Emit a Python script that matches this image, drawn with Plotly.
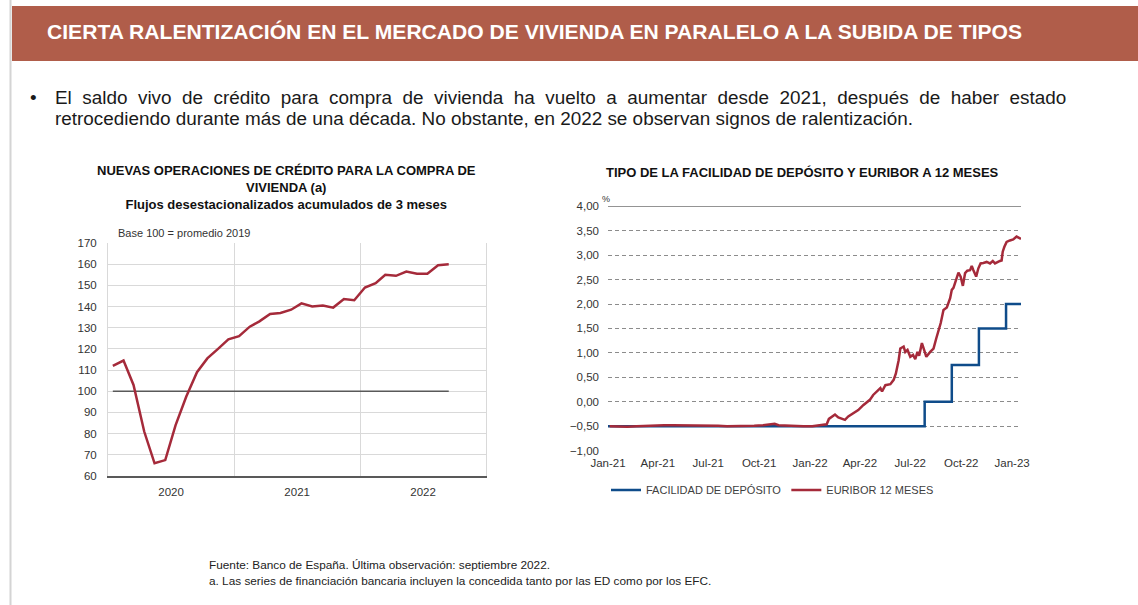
import pandas as pd
import plotly.graph_objects as go

# Left chart: new mortgage lending, 3-month cumulative SA flows (base 100 = 2019 average)
credit_dates = pd.date_range("2020-01-01", "2022-09-01", freq="MS") + pd.Timedelta(days=14)
credit_index = [112, 114.5, 103, 81, 66, 67.5, 84, 97.5, 109, 115.5, 120, 124.5,
                126, 130.5, 133, 136.5, 137, 138.5, 141.5, 140, 140.5, 139.5, 143.5, 143,
                149, 151, 155, 154.5, 156.5, 155.5, 155.5, 159.5, 160]
base_line = [100] * len(credit_index)

# Right chart: ECB deposit facility rate and 12-month Euribor (%)
dfr_dates = ["2021-01-01", "2022-07-27", "2022-09-14", "2022-11-02", "2022-12-21", "2023-01-17"]
dfr_rate = [-0.50, 0.00, 0.75, 1.50, 2.00, 2.00]

euribor_dates = [
    "2021-01-04", "2021-01-20", "2021-02-05", "2021-02-22", "2021-03-10", "2021-03-25",
    "2021-04-12", "2021-04-28", "2021-05-14", "2021-05-31", "2021-06-16", "2021-07-01",
    "2021-07-19", "2021-08-04", "2021-08-20", "2021-09-06", "2021-09-22", "2021-10-08",
    "2021-10-22", "2021-10-29", "2021-11-05", "2021-11-19", "2021-12-06", "2021-12-20",
    "2022-01-05", "2022-01-19", "2022-01-31", "2022-02-04", "2022-02-09", "2022-02-15",
    "2022-02-21", "2022-02-27", "2022-03-05", "2022-03-11", "2022-03-20", "2022-03-29",
    "2022-04-07", "2022-04-13", "2022-04-19", "2022-04-25", "2022-05-02", "2022-05-08",
    "2022-05-11", "2022-05-17", "2022-05-26", "2022-06-01", "2022-06-05", "2022-06-10",
    "2022-06-13", "2022-06-19", "2022-06-22", "2022-06-26", "2022-07-01", "2022-07-06",
    "2022-07-10", "2022-07-14", "2022-07-17", "2022-07-22", "2022-07-26", "2022-07-30",
    "2022-08-06", "2022-08-12", "2022-08-17", "2022-08-21", "2022-08-25", "2022-08-30",
    "2022-09-05", "2022-09-11", "2022-09-14", "2022-09-17", "2022-09-22", "2022-09-26",
    "2022-09-30", "2022-10-04", "2022-10-08", "2022-10-12", "2022-10-17", "2022-10-20",
    "2022-10-23", "2022-10-28", "2022-11-01", "2022-11-05", "2022-11-10", "2022-11-16",
    "2022-11-22", "2022-11-27", "2022-12-01", "2022-12-05", "2022-12-10", "2022-12-13",
    "2022-12-15", "2022-12-18", "2022-12-22", "2022-12-28", "2023-01-03", "2023-01-09",
    "2023-01-15", "2023-01-17",
]
euribor_rate = [
    -0.50, -0.51, -0.51, -0.50, -0.49, -0.49,
    -0.48, -0.48, -0.48, -0.48, -0.49, -0.48,
    -0.49, -0.50, -0.50, -0.49, -0.49, -0.48,
    -0.47, -0.45, -0.48, -0.49, -0.50, -0.50,
    -0.50, -0.48, -0.46, -0.35, -0.30, -0.26,
    -0.32, -0.34, -0.37, -0.30, -0.24, -0.17,
    -0.07, -0.02, 0.04, 0.14, 0.21, 0.28,
    0.21, 0.34, 0.36, 0.45, 0.58, 0.85,
    1.09, 1.13, 1.02, 1.06, 0.92, 0.96,
    0.87, 1.02, 0.94, 1.20, 1.06, 0.92,
    1.02, 1.09, 1.30, 1.45, 1.61, 1.88,
    1.93, 2.12, 2.29, 2.33, 2.53, 2.64,
    2.56, 2.37, 2.63, 2.68, 2.69, 2.78,
    2.69, 2.56, 2.73, 2.83, 2.84, 2.86,
    2.83, 2.88, 2.83, 2.86, 2.88, 2.89,
    3.07, 3.17, 3.27, 3.30, 3.32, 3.38,
    3.34, 3.33,
]

W, H = 1138, 605
FONT = "Liberation Sans, Arial, sans-serif"
RED = "#A52A3A"
BLUE = "#0F4C8A"


def px(x):
    return x / W


def py(y):
    return 1 - y / H


fig = go.Figure()

# left chart
fig.add_trace(go.Scatter(x=credit_dates, y=base_line, mode="lines", showlegend=False,
                         line=dict(color="#595959", width=1.5), hoverinfo="skip"))
fig.add_trace(go.Scatter(x=credit_dates, y=credit_index, mode="lines", showlegend=False,
                         line=dict(color=RED, width=2.5), name="Nuevas operaciones"))

# right chart
fig.add_trace(go.Scatter(x=dfr_dates, y=dfr_rate, mode="lines", line_shape="hv",
                         line=dict(color=BLUE, width=2.5), name="FACILIDAD DE DEPÓSITO",
                         xaxis="x2", yaxis="y2"))
fig.add_trace(go.Scatter(x=euribor_dates, y=euribor_rate, mode="lines",
                         line=dict(color=RED, width=2.5), name="EURIBOR 12 MESES",
                         xaxis="x2", yaxis="y2"))

tick_font = dict(family=FONT, size=11.5, color="#333333")

fig.update_layout(
    width=W, height=H,
    margin=dict(l=0, r=0, t=0, b=0, pad=0, autoexpand=False),
    paper_bgcolor="white", plot_bgcolor="white",
    font=dict(family=FONT, color="#222222"),
    separators=",.",
    xaxis=dict(domain=[px(108), px(486)], type="date",
               range=["2020-01-01", "2023-01-01"], dtick="M12", tick0="2020-01-01",
               ticklabelmode="period", tickformat="%Y", tickfont=tick_font,
               showgrid=True, gridcolor="#d9d9d9", gridwidth=1,
               showline=True, linecolor="#595959", linewidth=1.5,
               ticks="", ticklabelstandoff=4, automargin=False),
    yaxis=dict(domain=[py(476), py(243)], range=[60, 170], dtick=10,
               tickfont=tick_font, showgrid=True, gridcolor="#d9d9d9",
               showline=True, linecolor="#d9d9d9", mirror=True, zeroline=False,
               ticks="", ticklabelstandoff=8, automargin=False),
    xaxis2=dict(domain=[px(608), px(1021)], type="date",
                range=["2021-01-01", "2023-01-17"], dtick="M3", tick0="2021-01-01",
                tickformat="%b-%y", tickfont=tick_font, showgrid=False,
                showline=False, ticks="", ticklabelstandoff=4, anchor="y2",
                automargin=False),
    yaxis2=dict(domain=[py(450.7), py(206.2)], range=[-1, 4], dtick=0.5,
                tickformat=".2f", tickfont=tick_font, showgrid=True,
                gridcolor="#8c8c8c", griddash="4px,3px", gridwidth=1,
                zeroline=False, showline=False, ticks="", ticklabelstandoff=8,
                anchor="x2", automargin=False),
    legend=dict(orientation="h", x=px(606), y=py(490), xanchor="left", yanchor="middle",
                font=dict(family=FONT, size=11, color="#404040"),
                itemwidth=30, bgcolor="rgba(0,0,0,0)"),
)

shapes = [
    # header band and left page border
    dict(type="rect", xref="paper", yref="paper", x0=px(12), x1=1, y0=py(61), y1=py(6),
         fillcolor="#B05D4A", line_width=0, layer="below"),
    dict(type="line", xref="paper", yref="paper", x0=px(10.5), x1=px(10.5), y0=0, y1=1,
         line=dict(color="#d4d4d4", width=2)),
    # solid top line of the right chart
    dict(type="line", xref="x2 domain", yref="y2", x0=0, x1=1, y0=4, y1=4,
         line=dict(color="#404040", width=1.2)),
]

body = dict(family=FONT, size=18.9, color="#1a1a1a")
line1 = ("El saldo vivo de crédito para compra de vivienda ha vuelto a aumentar "
         "desde 2021, después de haber estado").split(" ")
line2 = ("retrocediendo durante más de una década. No obstante, en 2022 se observan "
         "signos de ralentización.")

annotations = [
    dict(text="<b>CIERTA RALENTIZACIÓN EN EL MERCADO DE VIVIENDA EN PARALELO A LA SUBIDA DE TIPOS</b>",
         x=px(45), y=py(32), xanchor="left", yanchor="middle",
         font=dict(family=FONT, size=21.1, color="white")),
    dict(text="•", x=px(28), y=py(97), xanchor="left", yanchor="middle", font=body),
    # first line is justified in the original: widen the word gaps
    dict(text=" \u00a0".join(line1), x=px(53), y=py(97), xanchor="left",
         yanchor="middle", font=body),
    dict(text=line2, x=px(53), y=py(118), xanchor="left", yanchor="middle", font=body),
    dict(text="<b>NUEVAS OPERACIONES DE CRÉDITO PARA LA COMPRA DE<br>VIVIENDA (a)<br>"
              "Flujos desestacionalizados acumulados de 3 meses</b>",
         x=px(286), y=py(187.5), xanchor="center", yanchor="middle",
         font=dict(family=FONT, size=13, color="#111111")),
    dict(text="<b>TIPO DE LA FACILIDAD DE DEPÓSITO Y EURIBOR A 12 MESES</b>",
         x=px(802), y=py(172), xanchor="center", yanchor="middle",
         font=dict(family=FONT, size=13, color="#111111")),
    dict(text="Base 100 = promedio 2019", x=px(116), y=py(233), xanchor="left",
         yanchor="middle", font=dict(family=FONT, size=11, color="#333333")),
    dict(text="%", x=px(600), y=py(199), xanchor="left", yanchor="middle",
         font=dict(family=FONT, size=9, color="#333333")),
    dict(text="Fuente: Banco de España. Última observación: septiembre 2022.",
         x=px(207), y=py(565), xanchor="left", yanchor="middle",
         font=dict(family=FONT, size=11.8, color="#222222")),
    dict(text="a. Las series de financiación bancaria incluyen la concedida tanto por las ED como por los EFC.",
         x=px(207), y=py(580.5), xanchor="left", yanchor="middle",
         font=dict(family=FONT, size=11.8, color="#222222")),
]
for a in annotations:
    a.update(xref="paper", yref="paper", showarrow=False)

fig.update_layout(shapes=shapes, annotations=annotations)

# the page body has a default 8px margin; drop it so the figure sits at (0, 0)
fig.write_html("out.html", config={"displayModeBar": False},
               post_script="document.body.style.margin = '0px';")
